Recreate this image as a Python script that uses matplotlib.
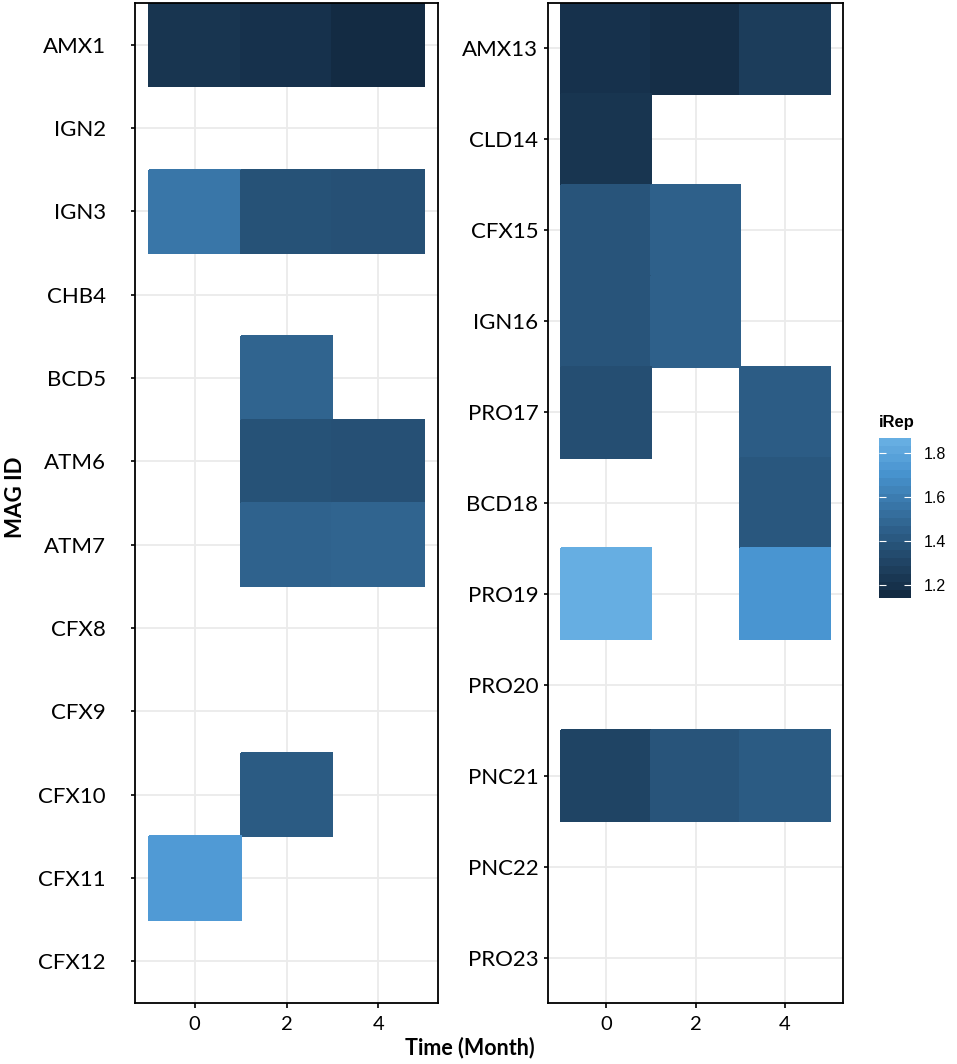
"""iRep heatmap of MAGs over time, two panels with a shared colour bar."""

import numpy as np
import matplotlib
matplotlib.use("Agg")
import matplotlib.pyplot as plt
from matplotlib.colors import ListedColormap, Normalize
from matplotlib.cm import ScalarMappable

# ---------- data -----------------------------------------------------------
months = [0, 2, 4]

left_ids = ["AMX1", "IGN2", "IGN3", "CHB4", "BCD5", "ATM6",
            "ATM7", "CFX8", "CFX9", "CFX10", "CFX11", "CFX12"]
left_irep = [
    [1.20, 1.18, 1.14],
    [None, None, None],
    [1.57, 1.37, 1.36],
    [None, None, None],
    [None, 1.47, None],
    [None, 1.37, 1.36],
    [None, 1.46, 1.47],
    [None, None, None],
    [None, None, None],
    [None, 1.42, None],
    [1.76, None, None],
    [None, None, None],
]

right_ids = ["AMX13", "CLD14", "CFX15", "IGN16", "PRO17", "BCD18",
             "PRO19", "PRO20", "PNC21", "PNC22", "PRO23"]
right_irep = [
    [1.18, 1.16, 1.25],
    [1.20, None, None],
    [1.38, 1.45, None],
    [1.38, 1.45, None],
    [1.35, None, 1.43],
    [None, None, 1.40],
    [1.87, None, 1.73],
    [None, None, None],
    [1.29, 1.38, 1.42],
    [None, None, None],
    [None, None, None],
]

cbar_ticks = [1.2, 1.4, 1.6, 1.8]
LOW, HIGH = "#132B43", "#56B1F7"   # ggplot default continuous gradient
TOP_SEEN = "#66AEE2"               # the top end looks washed out in the figure


# ---------- Lab gradient (like scales::seq_gradient_pal) -------------------
def _hex_rgb(h):
    h = h.lstrip("#")
    return np.array([int(h[i:i + 2], 16) / 255 for i in (0, 2, 4)])


_M = np.array([[0.4124, 0.3576, 0.1805],
               [0.2126, 0.7152, 0.0722],
               [0.0193, 0.1192, 0.9505]])
_WHITE = np.array([0.95047, 1.0, 1.08883])


def rgb_to_lab(rgb):
    lin = np.where(rgb <= 0.04045, rgb / 12.92, ((rgb + 0.055) / 1.055) ** 2.4)
    xyz = _M @ lin / _WHITE
    d = 6 / 29
    f = np.where(xyz > d ** 3, np.cbrt(xyz), xyz / (3 * d * d) + 4 / 29)
    return np.array([116 * f[1] - 16, 500 * (f[0] - f[1]), 200 * (f[1] - f[2])])


def lab_to_rgb(lab):
    fy = (lab[0] + 16) / 116
    f = np.array([fy + lab[1] / 500, fy, fy - lab[2] / 200])
    d = 6 / 29
    xyz = np.where(f > d, f ** 3, 3 * d * d * (f - 4 / 29)) * _WHITE
    lin = np.linalg.solve(_M, xyz)
    rgb = np.where(lin <= 0.0031308, 12.92 * lin, 1.055 * np.clip(lin, 0, None) ** (1 / 2.4) - 0.055)
    return np.clip(rgb, 0, 1)


def build_cmap(n=256, knee=0.8):
    a, b = rgb_to_lab(_hex_rgb(LOW)), rgb_to_lab(_hex_rgb(HIGH))
    top = rgb_to_lab(_hex_rgb(TOP_SEEN))
    k = a + (b - a) * knee
    cols = []
    for t in np.linspace(0, 1, n):
        if t <= knee:
            lab = a + (b - a) * t
        else:
            lab = k + (top - k) * (t - knee) / (1 - knee)
        cols.append(lab_to_rgb(lab))
    return ListedColormap(cols)


cmap = build_cmap()
all_vals = [v for block in (left_irep, right_irep) for row in block for v in row if v is not None]
norm = Normalize(vmin=min(all_vals), vmax=max(all_vals))

TICK_FONT = "Lato"
GRID = "#EBEBEB"


def draw_panel(ax, ids, irep, label_pad):
    vals = np.array([[np.nan if v is None else v for v in row] for row in irep])
    x = np.asarray(months, dtype=float)
    xedges = np.r_[x - 1, x[-1] + 1]
    yedges = np.arange(len(ids) + 1) + 0.5
    ax.pcolormesh(xedges, yedges, np.ma.masked_invalid(vals), cmap=cmap, norm=norm,
                  edgecolors="face", linewidth=0.3, zorder=2)
    ax.set_xlim(-1.3, 5.3)
    ax.set_ylim(len(ids) + 0.5, 0.5)
    ax.set_xticks(months)
    ax.set_yticks(np.arange(1, len(ids) + 1))
    ax.set_yticklabels(ids, fontsize=16, family=TICK_FONT)
    for lab in ax.get_xticklabels():
        lab.set_family(TICK_FONT)
        lab.set_fontsize(14.5)
    ax.grid(True, color=GRID, linewidth=1.3)
    ax.set_axisbelow(True)
    ax.tick_params(axis="y", length=3, width=1.2, pad=label_pad)
    ax.tick_params(axis="x", length=3.6, width=1.2, pad=6)
    for s in ax.spines.values():
        s.set_linewidth(1.3)
        s.set_color("black")


fig = plt.figure(figsize=(9.57, 10.64), dpi=100)
W, H = 957, 1064


def px_axes(x0, y0, x1, y1):
    return fig.add_axes([x0 / W, 1 - y1 / H, (x1 - x0) / W, (y1 - y0) / H])


ax_l = px_axes(135, 3, 438, 1003)
ax_r = px_axes(548, 3, 843, 1003)
draw_panel(ax_l, left_ids, left_irep, label_pad=18)
draw_panel(ax_r, right_ids, right_irep, label_pad=4)

fig.text(16 / W, 1 - 497 / H, "MAG ID", rotation=90, ha="center", va="center",
         fontsize=16, fontweight="bold", family=TICK_FONT)
fig.text(470 / W, 1 - 1048 / H, "Time (Month)", ha="center", va="center",
         fontsize=15.5, fontweight="bold", family=TICK_FONT)

# colour bar, banded like ggplot's guide_colourbar
cax = px_axes(879, 438, 911, 598)
sm = ScalarMappable(norm=norm, cmap=cmap.resampled(20))
cb = fig.colorbar(sm, cax=cax, ticks=cbar_ticks)
cb.outline.set_visible(False)
cax.tick_params(axis="y", direction="in", left=True, right=True, color="white",
                length=5, width=0.8, labelsize=11.5, pad=9)
for lab in cax.get_yticklabels():
    lab.set_family("Liberation Sans")
cax.set_title("iRep", loc="left", fontsize=12, fontweight="bold",
              family="Liberation Sans", pad=8)

fig.savefig("out.png", dpi=100)
